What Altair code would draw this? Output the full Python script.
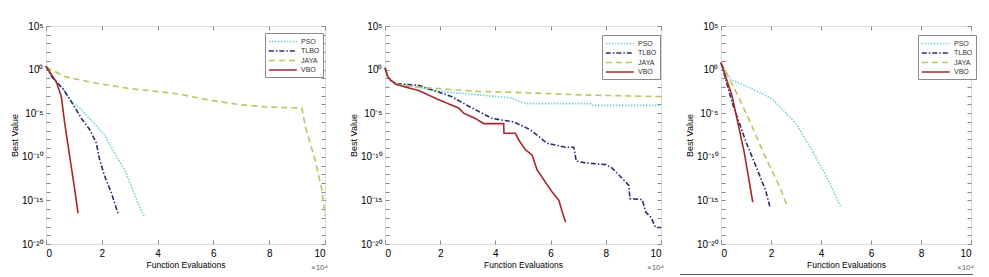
import altair as alt
import pandas as pd

SERIES = ["PSO", "TLBO", "JAYA", "VBO"]
COLORS = ["#72d0d8", "#2a2e6a", "#b8c75e", "#a6282c"]
DASHES = [[1.5, 1.5], [5, 2, 1.5, 2], [6, 4], [1, 0]]
WIDTHS = [1.6, 1.6, 1.8, 2.0]

X_TICKS = [0, 20000, 40000, 60000, 80000, 100000]
Y_TICKS = [10.0 ** k for k in range(-20, 6)]
Y_LABEL_EXPS = [5, 0, -5, -10, -15, -20]

# ---- panel (a): function evaluations (x1000) and log10(best value)
A_PSO_X = [0, 2, 4, 6.1, 9.1, 11.5, 16.2, 21, 24.6, 28.2, 30.6, 33, 35.1]
A_PSO_Y = [0.4, -0.8, -1.6, -2.2, -3.6, -4.2, -5.8, -7.5, -9.6, -11.5, -13.4, -15.3, -16.8]
A_TLBO_X = [0, 2, 4.3, 6.1, 9.1, 12.7, 15.7, 18, 19.2, 21, 23.4, 26]
A_TLBO_Y = [0.4, -0.8, -1.6, -2.2, -3.7, -5.6, -6.9, -8.4, -10.3, -12.2, -14.1, -16.7]
A_JAYA_X = [0, 6.7, 18.6, 30.6, 42.5, 47.5, 59.4, 69, 79.8, 91.7, 93, 96.5, 98.9, 100]
A_JAYA_Y = [0.3, -0.8, -1.6, -2.2, -2.6, -2.8, -3.55, -4.0, -4.3, -4.4, -6.6, -10.4, -13.8, -16.8]
A_VBO_X = [0, 2, 3.7, 5.5, 6.7, 8.5, 10.3, 11.5]
A_VBO_Y = [0.4, -0.6, -1.4, -3.1, -6.15, -9.95, -13.76, -16.5]

# ---- panel (b)
B_PSO_X = [0, 1, 2, 4, 9.7, 15.8, 21.8, 33.9, 46, 49, 51.5, 74.5, 75, 100]
B_PSO_Y = [0.2, -0.8, -1.2, -1.6, -1.9, -2.3, -2.55, -2.9, -3.25, -3.7, -3.9, -3.9, -4.1, -4.1]
B_TLBO_X = [0, 1, 2, 4, 12.2, 24.2, 30.3, 38.8, 46.6, 52.7, 58.7, 65.4, 68.4, 69.3, 72.7,
            80, 82.3, 86, 88.4, 88.7, 93.2, 94.4, 96.5, 98, 100]
B_TLBO_Y = [0.2, -0.8, -1.2, -1.6, -1.8, -3.1, -4.2, -5.6, -6.0, -6.9, -8.45, -8.9, -8.9, -10.5, -10.7,
            -10.9, -11.3, -12.5, -13.3, -14.8, -14.9, -16.3, -17.0, -18.1, -18.1]
B_JAYA_X = [0, 1, 2, 4, 8, 15.8, 33.9, 46, 70.8, 100]
B_JAYA_Y = [0.2, -0.8, -1.2, -1.6, -1.9, -2.1, -2.5, -2.6, -2.9, -3.1]
B_VBO_X = [0, 1, 2, 4, 12.2, 19.4, 26.7, 28.5, 32.7, 35.8, 43, 43.1, 47.3, 48.5, 50.9, 53.3,
           55.1, 58.1, 60.5, 63, 64.2, 65.4]
B_VBO_Y = [0.2, -0.8, -1.2, -1.7, -2.4, -3.45, -4.4, -5.0, -5.6, -6.2, -6.2, -7.3, -7.3, -8.1, -9.2, -9.8,
           -11.5, -12.9, -14.0, -15.0, -16.3, -17.5]

# ---- panel (c)
C_PSO_X = [0, 4, 14, 20.7, 30, 36.7, 43.3, 48]
C_PSO_Y = [0.8, -1.15, -2.4, -3.4, -6.2, -9.4, -12.9, -15.8]
C_TLBO_X = [0, 4.7, 10, 15.4, 18, 19.6]
C_TLBO_Y = [0.8, -4.0, -8.3, -12.1, -14.0, -15.8]
C_JAYA_X = [0, 7.3, 12.7, 18, 23.3, 26.7]
C_JAYA_Y = [0.8, -3.3, -6.7, -10.2, -13.3, -15.8]
C_VBO_X = [0, 4.4, 9.3, 12.7]
C_VBO_Y = [0.8, -3.0, -9.5, -15.2]

SUP = str.maketrans("-0123456789", "⁻⁰¹²³⁴⁵⁶⁷⁸⁹")
Y_EXPR = "".join(
    f"round(log(datum.value)/LN10) == {k} ? '10{str(k).translate(SUP)}' : " for k in Y_LABEL_EXPS
) + "''"

FONT = "Liberation Sans"


def make_df(pairs):
    rows = []
    for name, (xs, ys) in zip(SERIES, pairs):
        for i, (xv, yv) in enumerate(zip(xs, ys)):
            rows.append({"alg": name, "i": i, "fe": xv * 1000.0, "best": 10.0 ** yv})
    return pd.DataFrame(rows)


def panel(df, w, h, lx, ly, stray=False):
    leg = alt.Legend(
        orient="none", legendX=lx, legendY=ly, title=None,
        fillColor="white", strokeColor="#8a8a8a", padding=3,
        symbolType="M-1,0H5", symbolSize=87, labelOffset=22,
        labelFont=FONT, labelFontSize=7, labelColor="#333", rowPadding=0.5,
    )
    x_main = alt.X(
        "fe:Q",
        scale=alt.Scale(domain=[0, 100000], nice=False, zero=False),
        axis=alt.Axis(values=X_TICKS, labelExpr="datum.value/10000", title="Function Evaluations",
                      orient="bottom", offset=-4, tickSize=4, domain=False, grid=False,
                      labelPadding=4, titlePadding=2, titleFontWeight="normal", titleFontSize=8.5),
    )
    y_main = alt.Y(
        "best:Q",
        scale=alt.Scale(type="log", domain=[1e-20, 1e5], nice=False),
        axis=alt.Axis(values=Y_TICKS, labelExpr=Y_EXPR, title="Best Value", orient="left",
                      offset=-4, tickSize=4, domain=False, grid=False, labelPadding=3,
                      titlePadding=1.5, titleFontWeight="normal", titleFontSize=9),
    )
    lines = alt.Chart(df).mark_line().encode(
        x=x_main,
        y=y_main,
        color=alt.Color("alg:N", scale=alt.Scale(domain=SERIES, range=COLORS), legend=leg),
        strokeDash=alt.StrokeDash("alg:N", scale=alt.Scale(domain=SERIES, range=DASHES), legend=leg),
        strokeWidth=alt.StrokeWidth("alg:N", scale=alt.Scale(domain=SERIES, range=WIDTHS), legend=leg),
        order="i:Q",
    )
    mirror = alt.Chart(df).mark_point(opacity=0).encode(
        x=alt.X("fe:Q", axis=alt.Axis(orient="top", values=X_TICKS, labels=False, offset=-4,
                                      tickSize=4, domain=False, grid=False, title=None)),
        y=alt.Y("best:Q", axis=alt.Axis(orient="right", values=Y_TICKS, labels=False, offset=-4,
                                        tickSize=4, domain=False, grid=False, title=None)),
    )
    sci = alt.Chart(pd.DataFrame({"t": ["×10⁴"]})).mark_text(
        font=FONT, fontSize=8, color="#666", align="left", baseline="middle"
    ).encode(x=alt.value(w - 14), y=alt.value(h + 24), text="t:N")
    layers = [lines, mirror, sci]
    if stray:
        rule = alt.Chart(pd.DataFrame({"t": [0]})).mark_rule(color="#555", strokeWidth=1).encode(
            x=alt.value(-41), x2=alt.value(252), y=alt.value(248.5)
        )
        layers.append(rule)
    return alt.layer(*layers).resolve_axis(x="independent", y="independent").properties(
        width=w, height=h
    )


df_a = make_df([(A_PSO_X, A_PSO_Y), (A_TLBO_X, A_TLBO_Y), (A_JAYA_X, A_JAYA_Y), (A_VBO_X, A_VBO_Y)])
df_b = make_df([(B_PSO_X, B_PSO_Y), (B_TLBO_X, B_TLBO_Y), (B_JAYA_X, B_JAYA_Y), (B_VBO_X, B_VBO_Y)])
df_c = make_df([(C_PSO_X, C_PSO_Y), (C_TLBO_X, C_TLBO_Y), (C_JAYA_X, C_JAYA_Y), (C_VBO_X, C_VBO_Y)])

p1 = panel(df_a, 279, 218, 219, 7)
p2 = panel(df_b, 276, 218, 217, 9)
p3 = panel(df_c, 250, 218, 197, 9, stray=True)

chart = alt.hconcat(p1, p2, p3, spacing=60, bounds="flush").resolve_scale(
    color="independent", strokeDash="independent", strokeWidth="independent"
).properties(
    padding={"left": 2, "top": 12, "right": 0, "bottom": 0}
).configure_view(
    stroke="#a8a8a8", strokeWidth=1
).configure_axis(
    labelFont=FONT, labelFontSize=8, labelColor="#555", tickColor="#999",
    titleFont=FONT, titleFontSize=9, titleFontWeight="normal", titleColor="#444",
).configure(background="white")

chart.save("out.html", embed_options={"renderer": "svg", "actions": False})
